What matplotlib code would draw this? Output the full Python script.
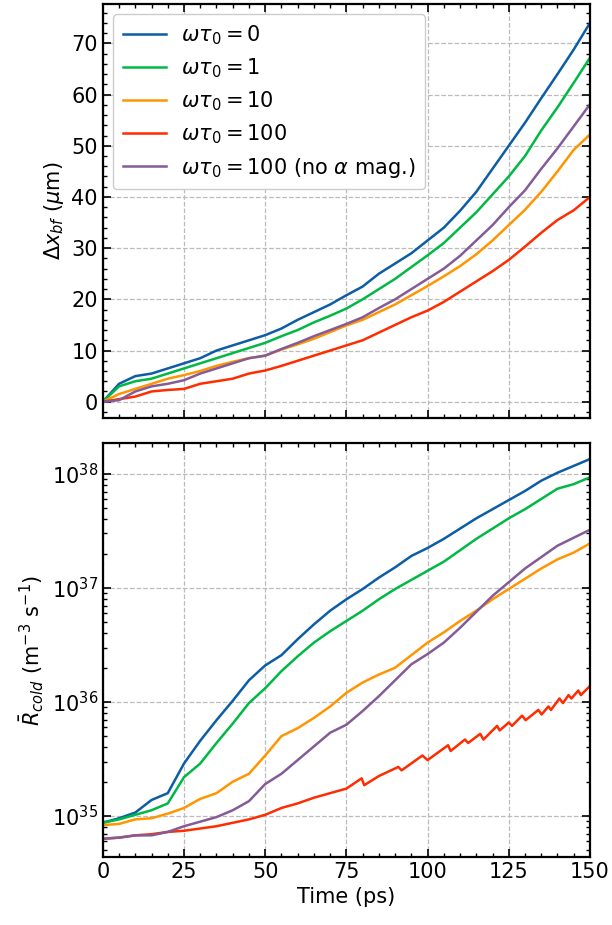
import numpy as np
import matplotlib.pyplot as plt
from matplotlib.ticker import MultipleLocator, LogLocator, NullFormatter

# time grid (ps)
t = np.arange(0, 151, 5)

# front displacement (um)
dx_0 = [0, 3.5, 5, 5.5, 6.5, 7.5, 8.5, 10, 11, 12, 13, 14.3, 16, 17.5, 19, 20.8,
        22.5, 25, 27, 29, 31.5, 34, 37.3, 41, 45.5, 50, 54.5, 59.3, 64, 68.8, 74]
dx_1 = [0, 3, 4, 4.5, 5.5, 6.5, 7.5, 8.5, 9.5, 10.5, 11.5, 12.8, 14, 15.5, 16.8, 18.2,
        20, 22, 24, 26.3, 28.6, 31, 34, 37, 40.5, 44, 48, 53, 57.5, 62.3, 67.2]
dx_10 = [0, 1.5, 2.5, 3.5, 4.5, 5.2, 6, 7, 7.8, 8.5, 9, 10.2, 11.2, 12.3, 13.6, 14.9,
         16, 17.5, 19, 20.8, 22.6, 24.5, 26.5, 28.8, 31.5, 34.5, 37.5, 41, 45, 49.2, 52.2]
dx_100 = [0, 0.5, 1, 2, 2.3, 2.5, 3.5, 4, 4.5, 5.5, 6.1, 7, 8, 9, 10, 11,
          12, 13.5, 15, 16.5, 17.8, 19.5, 21.5, 23.5, 25.5, 27.7, 30.3, 33, 35.5, 37.4, 40]
dx_100_nomag = [0, 0.3, 2, 3, 3.5, 4.2, 5.5, 6.5, 7.5, 8.5, 9, 10.3, 11.5, 12.8, 14, 15.2,
                16.5, 18.3, 20, 22, 24, 26, 28.5, 31.5, 34.5, 38, 41.3, 45.5, 49.5, 53.8, 58.1]

# log10 of cold rate (m^-3 s^-1)
logr_0 = [34.94, 34.98, 35.03, 35.14, 35.2, 35.46, 35.66, 35.84, 36.01, 36.19, 36.32,
          36.41, 36.55, 36.68, 36.8, 36.9, 36.99, 37.09, 37.18, 37.28, 37.35, 37.43,
          37.52, 37.61, 37.69, 37.77, 37.85, 37.94, 38.01, 38.07, 38.13]
logr_1 = [34.94, 34.97, 35.01, 35.05, 35.11, 35.34, 35.46, 35.64, 35.81, 35.99, 36.12,
          36.27, 36.4, 36.52, 36.62, 36.71, 36.8, 36.9, 36.99, 37.07, 37.15, 37.23,
          37.33, 37.43, 37.52, 37.61, 37.69, 37.78, 37.87, 37.91, 37.97]
logr_10 = [34.92, 34.93, 34.97, 34.98, 35.02, 35.07, 35.15, 35.2, 35.3, 35.37, 35.53,
           35.7, 35.77, 35.86, 35.96, 36.08, 36.17, 36.24, 36.3, 36.41, 36.52, 36.61,
           36.71, 36.8, 36.9, 36.99, 37.08, 37.17, 37.25, 37.31, 37.39]
logr_100_nomag = [34.8, 34.81, 34.83, 34.83, 34.86, 34.91, 34.95, 34.99, 35.05, 35.13, 35.28,
                  35.37, 35.49, 35.61, 35.73, 35.8, 35.92, 36.05, 36.19, 36.33, 36.42, 36.52,
                  36.65, 36.79, 36.93, 37.05, 37.17, 37.27, 37.37, 37.44, 37.51]
# the wt0=100 curve is sawtooth-like, so it gets its own time points
t_r100 = [0, 5, 10, 15, 20, 25, 30, 35, 40, 45, 50, 55, 60, 65, 70, 75, 79.7, 80.5,
          85, 91, 92, 98.4, 100, 106.3, 107.1, 111.5, 112.5, 116.2, 117.2, 121.4, 122.2,
          125, 126, 129.1, 130.2, 134.1, 135.1, 137.2, 138, 140.6, 141.7, 143.4, 144.3,
          146.4, 147.2, 150]
logr_100 = [34.8, 34.81, 34.83, 34.84, 34.86, 34.87, 34.89, 34.91, 34.94, 34.97, 35.01,
            35.07, 35.11, 35.16, 35.2, 35.24, 35.33, 35.27, 35.35, 35.43, 35.4, 35.53,
            35.49, 35.62, 35.57, 35.67, 35.64, 35.72, 35.67, 35.79, 35.75, 35.82, 35.79,
            35.88, 35.84, 35.93, 35.89, 35.96, 35.93, 36.03, 35.99, 36.06, 36.03, 36.1,
            36.06, 36.14]

labels = [r'$\omega\tau_0 = 0$', r'$\omega\tau_0 = 1$', r'$\omega\tau_0 = 10$',
          r'$\omega\tau_0 = 100$', r'$\omega\tau_0 = 100$ (no $\alpha$ mag.)']
colors = ['#0C5DA5', '#00B945', '#FF9500', '#FF2C00', '#845B97']

plt.rcParams.update({
    'font.size': 15,
    'mathtext.fontset': 'dejavusans',
    'axes.linewidth': 1.6,
    'xtick.direction': 'in', 'ytick.direction': 'in',
    'xtick.top': True, 'ytick.right': True,
    'xtick.major.size': 6, 'ytick.major.size': 6,
    'xtick.minor.size': 3, 'ytick.minor.size': 3,
    'xtick.major.width': 1.2, 'ytick.major.width': 1.2,
    'xtick.minor.width': 1.0, 'ytick.minor.width': 1.0,
    'xtick.minor.visible': True, 'ytick.minor.visible': True,
})

fig = plt.figure(figsize=(6.12, 9.25), dpi=100)
ax1 = fig.add_axes([0.168, 0.548, 0.796, 0.4477])
ax2 = fig.add_axes([0.168, 0.0735, 0.796, 0.4475])

lw = 1.8
tops = [dx_0, dx_1, dx_10, dx_100, dx_100_nomag]
for ys, c, lab in zip(tops, colors, labels):
    ax1.plot(t, ys, color=c, lw=lw, label=lab)

ax2.plot(t, 10**np.array(logr_0), color=colors[0], lw=lw)
ax2.plot(t, 10**np.array(logr_1), color=colors[1], lw=lw)
ax2.plot(t, 10**np.array(logr_10), color=colors[2], lw=lw)
ax2.plot(t_r100, 10**np.array(logr_100), color=colors[3], lw=lw)
ax2.plot(t, 10**np.array(logr_100_nomag), color=colors[4], lw=lw)

for ax in (ax1, ax2):
    ax.set_xlim(0, 150)
    ax.xaxis.set_major_locator(MultipleLocator(25))
    ax.xaxis.set_minor_locator(MultipleLocator(5))
    ax.grid(True, which='major', ls='--', color='#bbbbbb', lw=0.9)

ax1.set_ylim(-3.2, 77.7)
ax1.yaxis.set_major_locator(MultipleLocator(10))
ax1.yaxis.set_minor_locator(MultipleLocator(2))
ax1.set_xticklabels([])
ax1.set_ylabel(r'$\Delta x_{bf}$ ($\mu$m)')
ax1.legend(loc='upper left', fontsize=15, handlelength=2.1, framealpha=1,
           edgecolor='#cccccc', borderpad=0.45, labelspacing=0.45, handletextpad=0.7)

ax2.set_yscale('log')
ax2.set_ylim(10**34.64, 10**38.27)
ax2.yaxis.set_minor_locator(LogLocator(base=10, subs=np.arange(2, 10)))
ax2.yaxis.set_minor_formatter(NullFormatter())
ax2.set_xlabel('Time (ps)')
ax2.set_ylabel(r'$\bar{R}_{cold}$ (m$^{-3}$ s$^{-1}$)')

fig.savefig('out.png', dpi=100)
